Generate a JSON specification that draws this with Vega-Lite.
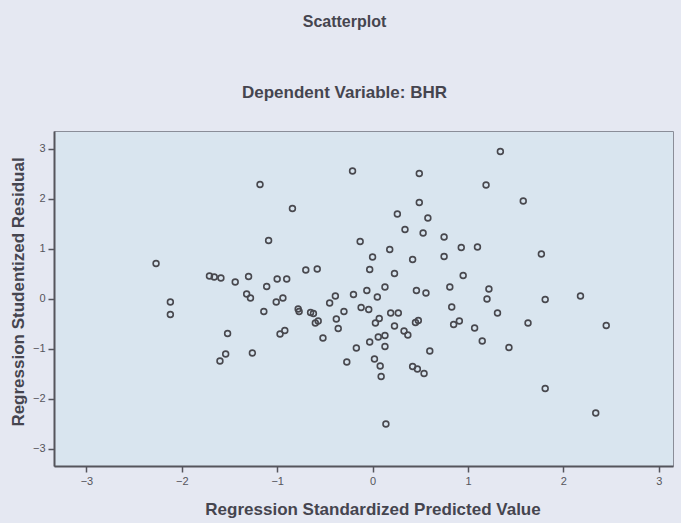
{
  "$schema": "https://vega.github.io/schema/vega-lite/v6.json",
  "autosize": "none",
  "width": 619,
  "height": 335,
  "padding": {"left": 54, "top": 131, "right": 8, "bottom": 57},
  "background": "#e5e8f2",
  "config": {
    "view": {"fill": "#d9e5ef", "stroke": "#8a8d98", "strokeWidth": 1},
    "font": "Liberation Sans"
  },
  "title": {
    "text": "Scatterplot",
    "subtitle": "Dependent Variable: BHR",
    "anchor": "middle",
    "dx": -19,
    "offset": 30,
    "font": "Liberation Sans",
    "fontSize": 16,
    "fontWeight": "bold",
    "color": "#45454f",
    "subtitleFont": "Liberation Sans",
    "subtitleFontSize": 17,
    "subtitleFontWeight": "bold",
    "subtitleColor": "#45454f",
    "subtitlePadding": 55
  },
  "data": {
    "values": [
      {"x": -2.27, "y": 0.70}, {"x": -2.12, "y": -0.07}, {"x": -2.12, "y": -0.32},
      {"x": -1.71, "y": 0.45}, {"x": -1.66, "y": 0.43}, {"x": -1.59, "y": 0.41},
      {"x": -1.52, "y": -0.70}, {"x": -1.54, "y": -1.11}, {"x": -1.60, "y": -1.25},
      {"x": -1.44, "y": 0.33}, {"x": -1.32, "y": 0.09}, {"x": -1.28, "y": 0.01},
      {"x": -1.30, "y": 0.44}, {"x": -1.26, "y": -1.09}, {"x": -1.18, "y": 2.28},
      {"x": -1.14, "y": -0.26}, {"x": -1.11, "y": 0.24}, {"x": -1.09, "y": 1.16},
      {"x": -1.00, "y": 0.39}, {"x": -0.90, "y": 0.39}, {"x": -1.01, "y": -0.07},
      {"x": -0.94, "y": 0.01}, {"x": -0.97, "y": -0.71}, {"x": -0.92, "y": -0.64},
      {"x": -0.84, "y": 1.80}, {"x": -0.78, "y": -0.21}, {"x": -0.77, "y": -0.26},
      {"x": -0.70, "y": 0.57}, {"x": -0.65, "y": -0.28}, {"x": -0.62, "y": -0.30},
      {"x": -0.58, "y": 0.59}, {"x": -0.60, "y": -0.49}, {"x": -0.57, "y": -0.45},
      {"x": -0.52, "y": -0.79}, {"x": -0.45, "y": -0.09}, {"x": -0.39, "y": 0.05},
      {"x": -0.38, "y": -0.41}, {"x": -0.36, "y": -0.60}, {"x": -0.30, "y": -0.26},
      {"x": -0.27, "y": -1.27}, {"x": -0.21, "y": 2.55}, {"x": -0.20, "y": 0.08},
      {"x": -0.17, "y": -0.99}, {"x": -0.13, "y": 1.14}, {"x": -0.12, "y": -0.18},
      {"x": -0.06, "y": 0.16}, {"x": -0.04, "y": -0.22}, {"x": -0.03, "y": 0.58},
      {"x": -0.03, "y": -0.87}, {"x": 0.00, "y": 0.83}, {"x": 0.02, "y": -1.21},
      {"x": 0.03, "y": -0.49}, {"x": 0.07, "y": -0.40}, {"x": 0.05, "y": 0.03},
      {"x": 0.06, "y": -0.77}, {"x": 0.08, "y": -1.35}, {"x": 0.09, "y": -1.56},
      {"x": 0.13, "y": -0.74}, {"x": 0.13, "y": -0.96}, {"x": 0.13, "y": 0.23},
      {"x": 0.14, "y": -2.51}, {"x": 0.18, "y": 0.98}, {"x": 0.19, "y": -0.29},
      {"x": 0.23, "y": 0.50}, {"x": 0.23, "y": -0.55}, {"x": 0.26, "y": 1.69},
      {"x": 0.27, "y": -0.29}, {"x": 0.33, "y": -0.65}, {"x": 0.34, "y": 1.38},
      {"x": 0.37, "y": -0.73}, {"x": 0.42, "y": -1.36}, {"x": 0.42, "y": 0.78},
      {"x": 0.45, "y": -0.48}, {"x": 0.46, "y": 0.16}, {"x": 0.47, "y": -1.41},
      {"x": 0.48, "y": -0.44}, {"x": 0.49, "y": 2.50}, {"x": 0.49, "y": 1.92},
      {"x": 0.53, "y": 1.31}, {"x": 0.54, "y": -1.50}, {"x": 0.56, "y": 0.11},
      {"x": 0.58, "y": 1.61}, {"x": 0.60, "y": -1.05}, {"x": 0.75, "y": 1.23},
      {"x": 0.75, "y": 0.84}, {"x": 0.81, "y": 0.23}, {"x": 0.83, "y": -0.17},
      {"x": 0.85, "y": -0.52}, {"x": 0.91, "y": -0.45}, {"x": 0.93, "y": 1.02},
      {"x": 0.95, "y": 0.46}, {"x": 1.07, "y": -0.59}, {"x": 1.10, "y": 1.03},
      {"x": 1.15, "y": -0.85}, {"x": 1.19, "y": 2.27}, {"x": 1.20, "y": -0.01},
      {"x": 1.22, "y": 0.19}, {"x": 1.31, "y": -0.29}, {"x": 1.34, "y": 2.94},
      {"x": 1.43, "y": -0.98}, {"x": 1.58, "y": 1.95}, {"x": 1.63, "y": -0.49},
      {"x": 1.77, "y": 0.89}, {"x": 1.81, "y": -0.02}, {"x": 1.81, "y": -1.80},
      {"x": 2.18, "y": 0.05}, {"x": 2.34, "y": -2.29}, {"x": 2.45, "y": -0.54}
    ]
  },
  "mark": {"type": "point", "shape": "circle", "filled": false, "stroke": "#48484e", "strokeWidth": 1.6, "size": 34, "opacity": 1},
  "encoding": {
    "x": {
      "field": "x", "type": "quantitative",
      "scale": {"domain": [-3.34, 3.15], "nice": false, "zero": false},
      "axis": {
        "title": "Regression Standardized Predicted Value",
        "values": [-3, -2, -1, 0, 1, 2, 3],
        "grid": false,
        "domainColor": "#55555c", "domainWidth": 2,
        "tickColor": "#55555c", "tickWidth": 1.5, "tickSize": 6,
        "labelFont": "Liberation Sans", "labelFontSize": 11, "labelColor": "#55555c", "labelPadding": 3,
        "titleFont": "Liberation Sans", "titleFontSize": 17, "titleFontWeight": "bold", "titleColor": "#45454f",
        "titleX": 318.5, "titleY": 48, "titleAlign": "center", "titleBaseline": "alphabetic"
      }
    },
    "y": {
      "field": "y", "type": "quantitative",
      "scale": {"domain": [-3.35, 3.35], "nice": false, "zero": false},
      "axis": {
        "title": "Regression Studentized Residual",
        "values": [-3, -2, -1, 0, 1, 2, 3],
        "grid": false,
        "domainColor": "#55555c", "domainWidth": 2,
        "tickColor": "#55555c", "tickWidth": 1.5, "tickSize": 6,
        "labelFont": "Liberation Sans", "labelFontSize": 11, "labelColor": "#55555c", "labelPadding": 3,
        "titleFont": "Liberation Sans", "titleFontSize": 17, "titleFontWeight": "bold", "titleColor": "#45454f",
        "titleX": -36, "titleY": 160.5, "titleAngle": -90, "titleAlign": "center", "titleBaseline": "middle"
      }
    }
  }
}
